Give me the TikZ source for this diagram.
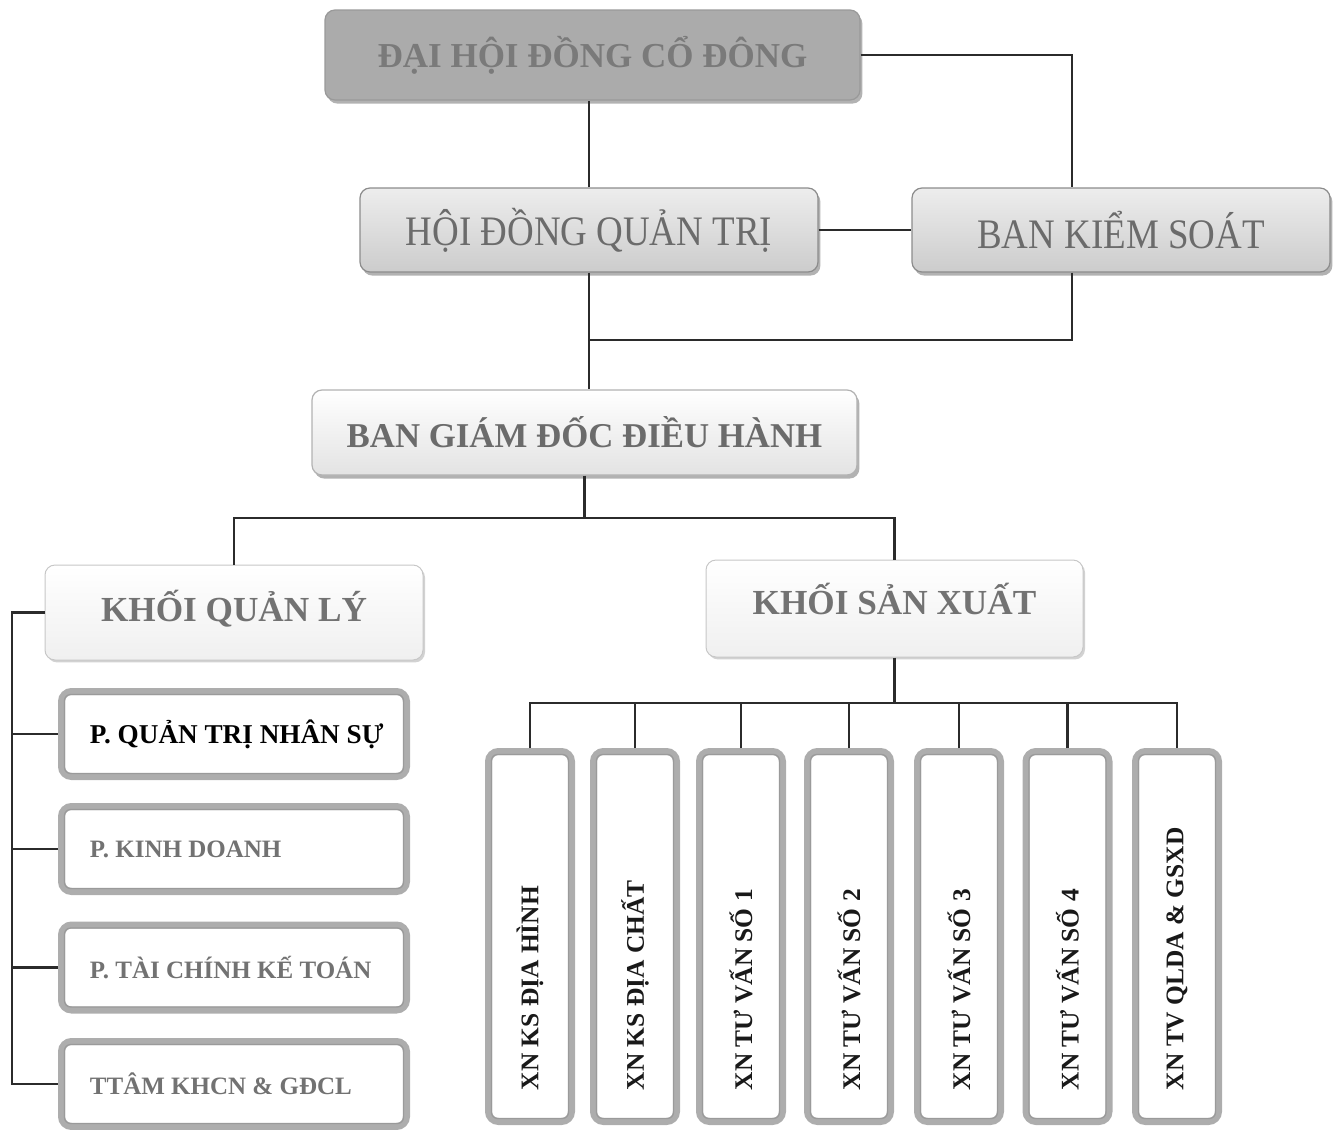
\documentclass[tikz,border=0pt]{standalone}
\usepackage{fontspec}
\usepackage{graphicx}
\setmainfont{Liberation Serif}
\newfontfamily\condserif[FakeStretch=0.88]{Liberation Serif}
\usetikzlibrary{shadows}
\definecolor{lineC}{HTML}{2B2B2B}
\definecolor{dhFill}{HTML}{ABABAB}
\definecolor{dhText}{HTML}{7A7A7A}
\definecolor{midText}{HTML}{6B6B6B}
\definecolor{lightText}{HTML}{727272}
\definecolor{outerC}{HTML}{ADADAD}
\definecolor{innerC}{HTML}{9A9A9A}
\begin{document}
\begin{tikzpicture}[x=0.5pt,y=-0.5pt,
  base/.style={rounded corners=5pt, align=center, inner sep=0pt},
  shad/.style={drop shadow={shadow xshift=1.2pt,shadow yshift=-1.8pt,fill=black!60}},
  dhbox/.style={base, shad, draw=black!40, line width=0.6pt, fill=dhFill, text=dhText,
    font=\bfseries\fontsize{17.5}{20}\selectfont},
  grbox/.style={base, shad, draw=black!45, line width=0.6pt, top color=black!7, bottom color=black!20,
    text=midText, font=\condserif\fontsize{21}{24}\selectfont},
  bgbox/.style={base, shad, draw=black!30, line width=0.6pt, top color=white, bottom color=black!11,
    text=midText, font=\bfseries\fontsize{17.4}{20}\selectfont},
  khbox/.style={base, drop shadow={shadow xshift=1pt,shadow yshift=-1.2pt,fill=black!35},
    draw=black!22, line width=0.5pt, top color=white, bottom color=black!6,
    text=lightText, font=\bfseries\fontsize{17.6}{20}\selectfont},
  dbox/.style={rounded corners=5pt, draw=outerC, line width=3.5pt, fill=white, inner sep=0pt},
  pbox/.style={dbox, minimum width=172.5pt, minimum height=42.5pt,
    font=\bfseries\fontsize{12.5}{15}\selectfont, text=lightText},
  xnbox/.style={dbox, minimum width=41.5pt, minimum height=185pt,
    font=\bfseries\fontsize{12.7}{14}\selectfont, text=black!90},
  innerln/.style={draw=innerC, line width=0.6pt, rounded corners=3pt},
  conn/.style={draw=lineC, line width=1.2pt}]
\useasboundingbox (0,0) rectangle (1334,1130);

% top tiers
\node[dhbox, minimum width=267.5pt, minimum height=45pt] (dh) at (592.5,55) {ĐẠI HỘI ĐỒNG CỔ ĐÔNG};
\node[grbox, minimum width=229pt, minimum height=42pt] (hd) at (589,230) {HỘI ĐỒNG QUẢN TRỊ};
\node[grbox, minimum width=209pt, minimum height=42pt] (bks) at (1121,230) {BAN KIỂM SOÁT};
\node[bgbox, minimum width=272.5pt, minimum height=42.5pt] (bgd) at (584.5,432.5) {BAN GIÁM ĐỐC ĐIỀU HÀNH};
\node[khbox, minimum width=189pt, minimum height=47.5pt] (kql) at (234,612.5) {\raisebox{7pt}{KHỐI QUẢN LÝ}};
\node[khbox, minimum width=188.5pt, minimum height=48.5pt] (ksx) at (894.5,608.5) {\raisebox{10pt}{KHỐI SẢN XUẤT}};

% management departments
\node[pbox, text=black, font=\bfseries\fontsize{13.6}{15}\selectfont] (p1) at (234,734) {\makebox[144pt][l]{P. QUẢN TRỊ NHÂN SỰ}};
\node[pbox] (p2) at (234,849) {\makebox[144pt][l]{P. KINH DOANH}};
\node[pbox] (p3) at (234,967.5) {\makebox[144pt][l]{P. TÀI CHÍNH KẾ TOÁN}};
\node[pbox] (p4) at (234,1084) {\makebox[144pt][l]{TTÂM KHCN \& GĐCL}};

% production units
\foreach \i/\cx/\t in {1/530/XN KS ĐỊA HÌNH, 2/635/XN KS ĐỊA CHẤT, 3/741/XN TƯ VẤN SỐ 1,
    4/849/XN TƯ VẤN SỐ 2, 5/959/XN TƯ VẤN SỐ 3, 6/1067.5/XN TƯ VẤN SỐ 4, 7/1177/XN TV QLDA \& GSXD}
  \node[xnbox] (xn\i) at (\cx,936.5) {\rotatebox{90}{\makebox[153.5pt][l]{\t}}};

% inner lines of double boxes
\foreach \n in {p1,p2,p3,p4,xn1,xn2,xn3,xn4,xn5,xn6,xn7}
  \draw[innerln] ([shift={(6.5,6.5)}]\n.north west) rectangle ([shift={(-6.5,-6.5)}]\n.south east);

% connectors
\coordinate (j1) at (588,340);
\coordinate (j2) at (586,518);
\coordinate (j3) at (894.5,703);
\coordinate (lb) at (12,613);
\draw[conn] (hd.north) -- (hd.north |- dh.south);
\draw[conn] (dh.east) -| ([xshift=-24.5pt]bks.north);
\draw[conn] (hd.east) -- (bks.west);
\draw[conn] (hd.south) -- (hd.south |- bgd.north);
\draw[conn] ([xshift=-24.5pt]bks.south) |- (j1);
\draw[conn] (bgd.south) -- (bgd.south |- j2);
\draw[conn] (kql.north) |- (j2) -| (ksx.north);
\draw[conn] (kql.west) -- (kql.west -| lb) |- (p4.west);
\foreach \n in {p1,p2,p3}
  \draw[conn] (lb |- \n.west) -- (\n.west);
\draw[conn] (ksx.south) -- (j3);
\draw[conn] (xn1.north) |- (j3) -| (xn7.north);
\foreach \n in {xn2,xn3,xn4,xn5,xn6}
  \draw[conn] (\n.north) -- (\n.north |- j3);
\end{tikzpicture}
\end{document}
